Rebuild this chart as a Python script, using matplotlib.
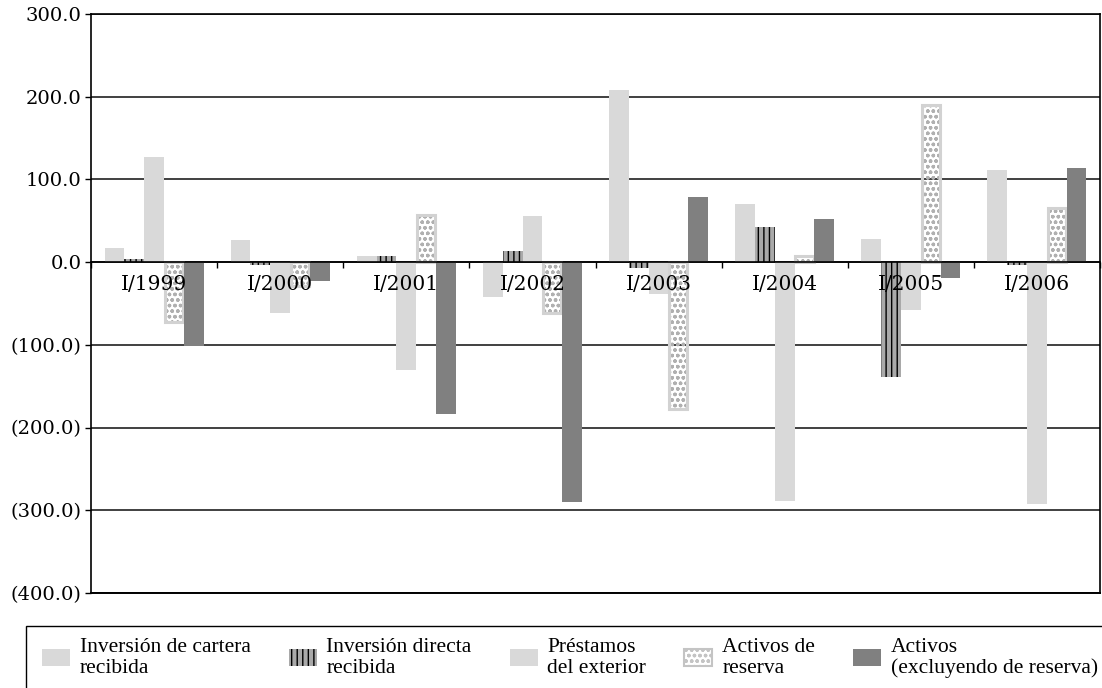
import matplotlib
matplotlib.use("Agg")
import matplotlib.pyplot as plt
from matplotlib.patches import Patch, Rectangle
from matplotlib.ticker import FixedLocator, FuncFormatter
import numpy as np

# Quarterly flows (millions), first quarter of each year
periods = ["I/1999", "I/2000", "I/2001", "I/2002", "I/2003", "I/2004", "I/2005", "I/2006"]
cartera = [17, 27, 7, -42, 208, 70, 28, 111]
directa = [4, -3, 7, 14, -7, 43, -139, -3]
prestamos = [127, -61, -131, 56, -38, -289, -58, -292]
reserva = [-72, -29, 57, -61, -178, 8, 190, 66]
activos = [-101, -23, -184, -290, 79, 52, -19, 114]

labels = ["Inversión de cartera\nrecibida",
          "Inversión directa\nrecibida",
          "Préstamos\ndel exterior",
          "Activos de\nreserva",
          "Activos\n(excluyendo de reserva)"]
yticks = [300, 200, 100, 0, -100, -200, -300, -400]

LIGHT = "#d9d9d9"
STRIPE = "#a9a9a9"
DOT = "#b0b0b0"
DOT_EDGE = "#d2d2d2"
DARK = "#808080"
GRID = "#404040"

plt.rcParams["hatch.linewidth"] = 1.0

fig = plt.figure(figsize=(11.02, 6.88), dpi=100)
ax = fig.add_axes([91 / 1102, 1 - 593 / 688, 1009 / 1102, 579 / 688])

x = np.arange(len(periods))
w = 0.157
offs = [-2, -1, 0, 1, 2]

ax.bar(x + offs[0] * w, cartera, w, color=LIGHT, linewidth=0, zorder=2)
ax.bar(x + offs[1] * w, directa, w, facecolor=STRIPE, edgecolor="black",
       hatch="|||", linewidth=0, zorder=2)
ax.bar(x + offs[2] * w, prestamos, w, color=LIGHT, linewidth=0, zorder=2)
ax.bar(x + offs[3] * w, reserva, w, facecolor="none", edgecolor=DOT,
       hatch="ooo", linewidth=0, zorder=2)
ax.bar(x + offs[3] * w, reserva, w * 0.92, facecolor="none", edgecolor=DOT_EDGE,
       linewidth=2.2, zorder=2)
ax.bar(x + offs[4] * w, activos, w, color=DARK, linewidth=0, zorder=2)

ax.set_xlim(-0.5, len(periods) - 0.5)
ax.set_ylim(-400, 300)

# y axis: parenthesised negatives, horizontal grid behind the bars
ax.yaxis.set_major_locator(FixedLocator(yticks))
ax.yaxis.set_major_formatter(FuncFormatter(
    lambda v, p: f"{v:.1f}" if v >= 0 else f"({-v:.1f})"))
ax.yaxis.grid(True, color=GRID, linewidth=1.4)
ax.yaxis.set_zorder(0.5)
ax.tick_params(axis="y", direction="out", length=4, width=1, pad=3,
               labelsize=14, labelfontfamily="DejaVu Serif")

# x axis sits on the zero line, labels drawn above the bars
ax.spines["bottom"].set_position(("data", 0))
ax.xaxis.set_zorder(3)
ax.set_xticks(x)
ax.set_xticklabels(periods, family="DejaVu Serif", fontsize=14.5)
ax.set_xticks(np.arange(-0.5, len(periods), 1.0), minor=True)
ax.tick_params(axis="x", which="major", length=0, pad=9)
ax.tick_params(axis="x", which="minor", direction="out", length=4, width=1)
for s in ["top", "right", "left", "bottom"]:
    ax.spines[s].set_color("black")
    ax.spines[s].set_linewidth(1.2)
ax.spines["bottom"].set_zorder(3)
ax.axhline(-400, color="black", linewidth=1.4, clip_on=False, zorder=3)

# legend box runs off the lower edge of the figure
fig.patches.append(Rectangle((26 / 1102, -0.05), 1.0, 1 - 626 / 688 + 0.05,
                             transform=fig.transFigure, facecolor="white",
                             edgecolor="black", linewidth=1.0, zorder=0))

handles = [
    Patch(facecolor=LIGHT, linewidth=0),
    Patch(facecolor=STRIPE, edgecolor="black", hatch="|||", linewidth=0),
    Patch(facecolor=LIGHT, linewidth=0),
    Patch(facecolor="white", edgecolor="#c4c4c4", hatch="ooo", linewidth=1.5),
    Patch(facecolor=DARK, linewidth=0),
]
leg = fig.legend(handles, labels, ncol=5, mode="expand",
                 loc="upper left",
                 bbox_to_anchor=(42 / 1102, 0, 1 - 46 / 1102, 1 - 638 / 688),
                 frameon=False,
                 borderaxespad=0, borderpad=0.0,
                 handlelength=1.3, handleheight=0.85, handletextpad=0.45,
                 columnspacing=1.2,
                 prop={"family": "Liberation Serif", "size": 15.5})
for t in leg.get_texts():
    t.set_linespacing(1.1)

fig.savefig("out.png", dpi=100)
